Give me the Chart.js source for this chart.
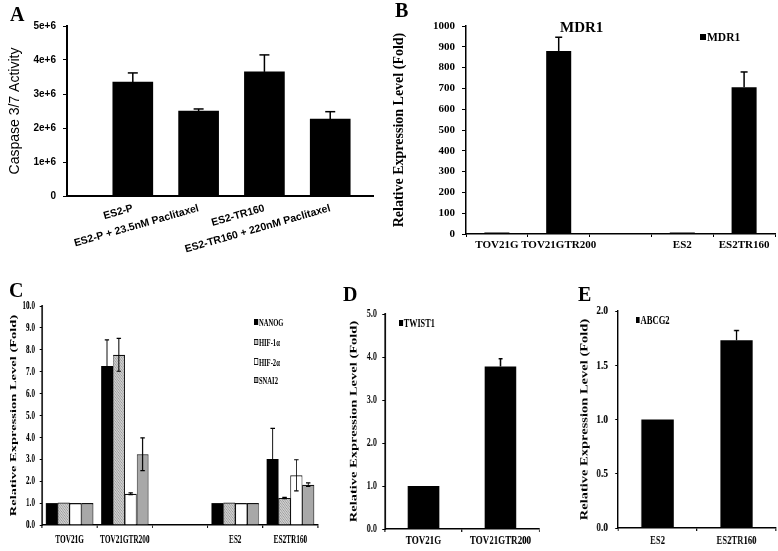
<!DOCTYPE html>
<html>
<head>
<meta charset="utf-8">
<script src="https://cdn.jsdelivr.net/npm/chart.js@4.4.1/dist/chart.umd.min.js"></script>
<style>
  body { margin: 0; background: #fff; width: 778px; height: 551px; overflow: hidden; position: relative; }
  .panel { position: absolute; transform-origin: 0 0; }
  .letter { position: absolute; font: bold 20px 'Liberation Serif', serif; line-height: 1; color: #000; }
  .lg { position: absolute; height: 16px; line-height: 16px; display: flex; align-items: center; transform-origin: 0 50%;
        font-family: 'Liberation Serif', serif; font-weight: bold; white-space: nowrap; color: #000; }
  .lg i { display: inline-block; box-sizing: border-box; margin-right: 1px; }
</style>
</head>
<body>
<script>
// A - caspase 3/7
const labelsA = ['ES2-P', 'ES2-P + 23.5nM Paclitaxel', 'ES2-TR160', 'ES2-TR160 + 220nM Paclitaxel']
const caspase = [3.35e6, 2.5e6, 3.65e6, 2.26e6]
const caspaseErr = [0.27e6, 0.06e6, 0.5e6, 0.22e6]
const tickLabelsA = ['0', '1e+6', '2e+6', '3e+6', '4e+6', '5e+6']

// B - MDR1
const labelsB = ['TOV21G', 'TOV21GTR200', '', 'ES2', 'ES2TR160']
const mdr1 = [1, 880, null, 1, 706]
const mdr1Err = [0, 66, null, 0, 73]

// C - stemness genes
const labelsC = ['TOV21G', 'TOV21GTR200', '', 'ES2', 'ES2TR160']
const seriesC = ['NANOG', 'HIF-1α', 'HIF-2α', 'SNAI2']
const nanog = [1.0, 7.26, null, 1.0, 3.01]
const nanogErr = [0, 1.19, null, 0, 1.4]
const hif1a = [1.03, 7.77, null, 1.03, 1.23]
const hif1aErr = [0, 0.75, null, 0, 0.03]
const hif2a = [1.0, 1.43, null, 1.0, 2.27]
const hif2aErr = [0, 0.04, null, 0, 0.71]
const snai2 = [1.0, 3.23, null, 1.0, 1.84]
const snai2Err = [0, 0.75, null, 0, 0.08]

// D - TWIST1
const labelsD = ['TOV21G', 'TOV21GTR200']
const twist1 = [1.0, 3.78]
const twist1Err = [0, 0.18]

// E - ABCG2
const labelsE = ['ES2', 'ES2TR160']
const abcg2 = [1.0, 1.73]
const abcg2Err = [0, 0.09]

const serif = "'Liberation Serif', 'Times New Roman', serif"
const sans = "'Liberation Sans', Arial, sans-serif"
const yTitle = 'Relative Expression Level (Fold)'

const errorBars = {
  id: 'errorBars',
  afterDatasetsDraw(chart, args, opts) {
    const ctx = chart.ctx
    const y = chart.scales.y
    chart.data.datasets.forEach((ds, di) => {
      if (!ds.errors) return
      chart.getDatasetMeta(di).data.forEach((bar, i) => {
        const raw = ds.data[i]
        const e = ds.errors[i]
        if (raw == null || !e) return
        const v = typeof raw === 'object' ? raw.y : raw
        const top = y.getPixelForValue(v + e)
        const bottom = opts.both ? y.getPixelForValue(v - e) : bar.y
        ctx.save()
        ctx.strokeStyle = '#000'
        ctx.lineWidth = opts.lw
        ctx.beginPath()
        ctx.moveTo(bar.x, bottom)
        ctx.lineTo(bar.x, top)
        ctx.stroke()
        ctx.lineWidth = opts.capLw
        ctx.beginPath()
        ctx.moveTo(bar.x - opts.cap, top)
        ctx.lineTo(bar.x + opts.cap, top)
        if (opts.both) {
          ctx.moveTo(bar.x - opts.cap, bottom)
          ctx.lineTo(bar.x + opts.cap, bottom)
        }
        ctx.stroke()
        ctx.restore()
      })
    })
  }
}

const makePanel = (p) => {
  const div = document.createElement('div')
  div.className = 'panel'
  div.style.left = p.left + 'px'
  div.style.top = p.top + 'px'
  div.style.transform = 'scaleX(' + p.s + ')'
  const cw = Math.round(p.w / p.s)
  const canvas = document.createElement('canvas')
  canvas.width = cw
  canvas.height = p.h
  canvas.style.width = cw + 'px'
  canvas.style.height = p.h + 'px'
  div.appendChild(canvas)
  document.body.appendChild(div)
  return {
    canvas,
    L: (p.area.l - p.left) / p.s,
    R: cw - (p.area.r - p.left) / p.s,
    T: p.area.t - p.top,
    B: p.top + p.h - p.area.b
  }
}

const yAxis = (m, o) => ({
  min: o.min,
  max: o.max,
  afterFit: (s) => { s.width = m.L },
  ticks: { stepSize: o.step, color: '#000', padding: o.pad, font: { family: o.family || serif, weight: 'bold', size: o.size }, callback: o.cb },
  grid: { drawOnChartArea: false, drawTicks: true, tickLength: 4, color: '#000', lineWidth: 1 },
  border: { color: '#000', width: o.bw },
  title: {
    display: true, text: o.title, color: '#000',
    font: { family: o.tfamily || serif, weight: o.tweight || 'bold', size: o.tsize },
    padding: { top: o.tpad, bottom: 0 }
  }
})

const xCat = (m, o) => ({
  afterFit: (s) => { s.height = m.B },
  ticks: { color: '#000', padding: o.pad, autoSkip: false, maxRotation: 0, font: { family: serif, weight: 'bold', size: o.size } },
  grid: { offset: true, drawOnChartArea: false, drawTicks: true, tickLength: 3, color: '#000', lineWidth: o.tickW },
  border: { color: '#000', width: o.bw }
})

const makeChart = (p, data, scales, eb) => {
  const m = makePanel(p)
  return new Chart(m.canvas, {
    type: 'bar',
    data,
    options: {
      responsive: false,
      animation: false,
      devicePixelRatio: 1,
      layout: { padding: { left: 0, top: m.T, right: m.R, bottom: 0 } },
      plugins: { legend: { display: false }, tooltip: { enabled: false }, errorBars: eb },
      scales: scales(m)
    },
    plugins: [errorBars]
  })
}

const letter = (t, x, y) => {
  const d = document.createElement('div')
  d.className = 'letter'
  d.textContent = t
  d.style.left = x + 'px'
  d.style.top = y + 'px'
  document.body.appendChild(d)
}

const legend = (x, s, size, rows) => {
  rows.forEach((r) => {
    const d = document.createElement('div')
    d.className = 'lg'
    d.style.left = x + 'px'
    d.style.top = (r.y - 8) + 'px'
    d.style.transform = 'scaleX(' + s + ')'
    d.style.fontSize = size + 'px'
    const mk = document.createElement('i')
    mk.style.width = r.w + 'px'
    mk.style.height = r.h + 'px'
    mk.style.background = r.fill
    if (r.border) mk.style.border = r.border
    d.appendChild(mk)
    d.appendChild(document.createTextNode(r.text))
    document.body.appendChild(d)
  })
}

const dotted = () => {
  const c = document.createElement('canvas')
  c.width = 3
  c.height = 3
  const g = c.getContext('2d')
  g.fillStyle = '#cdcdcd'
  g.fillRect(0, 0, 3, 3)
  g.fillStyle = '#9c9c9c'
  g.fillRect(0, 0, 1, 1)
  g.fillRect(2, 1, 1, 1)
  g.fillRect(1, 2, 1, 1)
  return g.createPattern(c, 'repeat')
}

// ---- A
makeChart(
  { left: 0, top: 0, w: 390, h: 280, s: 1, area: { l: 67, t: 26, r: 373, b: 196 } },
  { datasets: [{ data: caspase.map((v, i) => ({ x: i + 1, y: v })), errors: caspaseErr, backgroundColor: '#000', barThickness: 40 }] },
  (m) => ({
    x: {
      type: 'linear', min: 0, max: 4.65, offset: false,
      afterBuildTicks: (s) => { s.ticks = labelsA.map((_, i) => ({ value: i + 1 })) },
      afterFit: (s) => { s.height = m.B },
      ticks: { autoSkip: false, minRotation: 16, maxRotation: 16, padding: 6, color: '#000', font: { family: sans, weight: 'bold', size: 10.5 }, callback: (v, i) => labelsA[i] },
      grid: { display: true, drawOnChartArea: false, drawTicks: false },
      border: { color: '#000', width: 2 }
    },
    y: yAxis(m, { min: 0, max: 5e6, step: 1e6, pad: 7, size: 10, family: sans, cb: (v, i) => tickLabelsA[i], bw: 2,
      title: 'Caspase 3/7 Activity', tfamily: sans, tweight: 'normal', tsize: 14, tpad: 6.6 })
  }),
  { both: false, cap: 5, lw: 1.5, capLw: 1.5 }
)

// ---- B
makeChart(
  { left: 390, top: 0, w: 388, h: 280, s: 1, area: { l: 466, t: 26, r: 775, b: 234 } },
  { labels: labelsB, datasets: [{ label: 'MDR1', data: mdr1, errors: mdr1Err, backgroundColor: '#000', barPercentage: 1, categoryPercentage: 0.405, minBarLength: 1.5 }] },
  (m) => ({
    x: xCat(m, { pad: 2, size: 11, tickW: 1, bw: 1.5 }),
    y: yAxis(m, { min: 0, max: 1000, step: 100, pad: 7, size: 11, bw: 1.5, title: yTitle, tsize: 14, tpad: 0.6 })
  }),
  { both: false, cap: 3.5, lw: 1.5, capLw: 1.5 }
)

// ---- C
const sC = 0.6
makeChart(
  { left: 0, top: 283, w: 330, h: 268, s: sC, area: { l: 42, t: 306, r: 318, b: 525 } },
  {
    labels: labelsC,
    datasets: [
      { label: seriesC[0], data: nanog, errors: nanogErr, backgroundColor: '#000' },
      { label: seriesC[1], data: hif1a, errors: hif1aErr, backgroundColor: dotted(), borderColor: '#111', borderWidth: 1.3 },
      { label: seriesC[2], data: hif2a, errors: hif2aErr, backgroundColor: '#fff', borderColor: '#111', borderWidth: 1.3 },
      { label: seriesC[3], data: snai2, errors: snai2Err, backgroundColor: '#a8a8a8', borderColor: '#111', borderWidth: 1.3 }
    ].map((d) => Object.assign(d, { barPercentage: 1, categoryPercentage: 0.86 }))
  },
  (m) => ({
    x: xCat(m, { pad: 4.5, size: 12.1, tickW: 1 / sC, bw: 1.5 }),
    y: yAxis(m, { min: 0, max: 10, step: 1, pad: 7.7, size: 12.1, cb: (v) => v.toFixed(1), bw: 1.5 / sC, title: yTitle, tsize: 14.5, tpad: 14.6 })
  }),
  { both: true, cap: 3.7, lw: 1 / sC, capLw: 1.2 }
)

// ---- D
const sD = 0.68
makeChart(
  { left: 330, top: 283, w: 215, h: 268, s: sD, area: { l: 385, t: 314, r: 539, b: 529 } },
  { labels: labelsD, datasets: [{ label: 'TWIST1', data: twist1, errors: twist1Err, backgroundColor: '#000', barPercentage: 1, categoryPercentage: 0.41 }] },
  (m) => ({
    x: xCat(m, { pad: 0.8, size: 13.2, tickW: 1 / sD, bw: 1.5 }),
    y: yAxis(m, { min: 0, max: 5, step: 1, pad: 7.8, size: 12.1, cb: (v) => v.toFixed(1), bw: 1.5 / sD, title: yTitle, tsize: 14.5, tpad: 26.6 })
  }),
  { both: false, cap: 2.9, lw: 1.5 / sD, capLw: 1.5 }
)

// ---- E
const sE = 0.72
makeChart(
  { left: 550, top: 283, w: 228, h: 268, s: sE, area: { l: 618, t: 311, r: 776, b: 528 } },
  { labels: labelsE, datasets: [{ label: 'ABCG2', data: abcg2, errors: abcg2Err, backgroundColor: '#000', barPercentage: 1, categoryPercentage: 0.41 }] },
  (m) => ({
    x: xCat(m, { pad: 2.5, size: 12, tickW: 1 / sE, bw: 1.5 }),
    y: yAxis(m, { min: 0, max: 2, step: 0.5, pad: 9.9, size: 13.1, cb: (v) => v.toFixed(1), bw: 1.5 / sE, title: yTitle, tsize: 14.5, tpad: 39.2 })
  }),
  { both: false, cap: 3.5, lw: 1.5 / sE, capLw: 1.5 }
)

// panel letters, titles and legends
letter('A', 10, 3.5)
letter('B', 395, 0)
letter('C', 9, 279.5)
letter('D', 343, 283.5)
letter('E', 578, 283.5)

const mdrTitle = document.createElement('div')
mdrTitle.className = 'letter'
mdrTitle.style.fontSize = '15px'
mdrTitle.style.left = '560px'
mdrTitle.style.top = '19.5px'
mdrTitle.textContent = 'MDR1'
document.body.appendChild(mdrTitle)

legend(700, 1, 11.5, [{ y: 37, text: 'MDR1', w: 6, h: 6, fill: '#000' }])
legend(254, sC, 11, [
  { y: 322, text: seriesC[0], w: 7.2, h: 6.5, fill: '#000' },
  { y: 342, text: seriesC[1], w: 7.2, h: 6.5, fill: '#c4c4c4', border: '1px solid #111' },
  { y: 361.5, text: seriesC[2], w: 7.2, h: 6.5, fill: '#fff', border: '1px solid #111' },
  { y: 380, text: seriesC[3], w: 7.2, h: 6.5, fill: '#a8a8a8', border: '1px solid #111' }
])
legend(399, sD, 12.1, [{ y: 323, text: 'TWIST1', w: 5.9, h: 6, fill: '#000' }])
legend(636, sE, 12, [{ y: 320, text: 'ABCG2', w: 5.1, h: 6.5, fill: '#000' }])
</script>
</body>
</html>
